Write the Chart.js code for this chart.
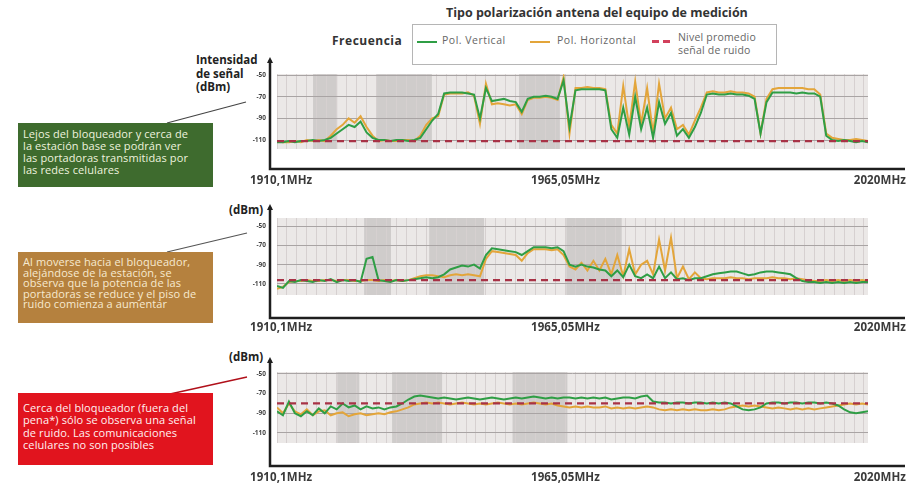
<!DOCTYPE html>
<html><head><meta charset="utf-8">
<script src="https://cdn.jsdelivr.net/npm/chart.js@4.4.0/dist/chart.umd.min.js"></script>
<style>
body{margin:0;width:917px;height:484px;background:#fff;position:relative;overflow:hidden;font-family:'Open Sans',Lato,sans-serif;color:#333}
.a{position:absolute;white-space:nowrap}
canvas{position:absolute}
.box{position:absolute;left:18px;width:195px;box-sizing:border-box;padding:0 5px;font-size:11px;white-space:nowrap;letter-spacing:0.1px}
.xl{position:absolute;font-size:11.5px;font-weight:700;color:#3a3a3a;letter-spacing:0.1px}
.dbm{position:absolute;font-size:11.5px;font-weight:700;color:#222}
.lg{position:absolute;white-space:nowrap;font-size:10.5px;color:#666;letter-spacing:0.5px}
svg{position:absolute;left:0;top:0}
</style></head><body>

<div class="a" style="left:446px;top:4px;font-size:12.5px;font-weight:700;color:#333">Tipo polarización antena del equipo de medición</div>
<div class="a" style="left:332px;top:32px;font-size:12px;font-weight:700;color:#333;letter-spacing:0.5px">Frecuencia</div>
<div class="a" style="left:412px;top:24px;width:365px;height:41px;border:1.5px solid #b5b5b5;box-sizing:border-box"></div>
<div class="a" style="left:417px;top:41px;width:20px;height:2px;background:#2f9e45"></div>
<div class="lg" style="left:442px;top:33px">Pol. Vertical</div>
<div class="a" style="left:530px;top:41px;width:20px;height:2px;background:#e3a53a"></div>
<div class="lg" style="left:557px;top:33px">Pol. Horizontal</div>
<div class="a" style="left:652px;top:40px;width:7px;height:2.5px;background:#d2405c"></div>
<div class="a" style="left:663px;top:40px;width:7px;height:2.5px;background:#d2405c"></div>
<div class="lg" style="left:678px;top:31px;line-height:13px;letter-spacing:0.2px">Nivel promedio<br>señal de ruido</div>

<div class="a" style="left:196px;top:53px;font-size:11.5px;font-weight:700;line-height:13.5px;color:#222">Intensidad<br>de señal<br>(dBm)</div>
<div class="dbm" style="left:229px;top:202px">(dBm)</div>
<div class="dbm" style="left:229px;top:349px">(dBm)</div>

<svg width="917" height="484">
<line x1="167" y1="123" x2="246" y2="102" stroke="#444" stroke-width="1.2"/>
<line x1="167" y1="252" x2="247" y2="233" stroke="#555" stroke-width="1.2"/>
<line x1="170" y1="394" x2="247" y2="377" stroke="#b0101a" stroke-width="1.4"/>
</svg>

<div class="box" style="top:123px;height:64px;background:#3e6b2e;color:#eef3df;padding-top:5px;line-height:12px">Lejos del bloqueador y cerca de<br>la estación base se podrán ver<br>las portadoras transmitidas por<br>las redes celulares</div>
<div class="box" style="top:252px;height:71px;background:#b5813e;color:#f7ead0;padding-top:5px;line-height:10.6px">Al moverse hacia el bloqueador,<br>alejándose de la estación, se<br>observa que la potencia de las<br>portadoras se reduce y el piso de<br>ruido comienza a aumentar</div>
<div class="box" style="top:393px;height:72px;background:#e1141e;color:#fff2f2;padding-top:9px;line-height:12.3px">Cerca del bloqueador (fuera del<br>pena*) sólo se observa una señal<br>de ruido. Las comunicaciones<br>celulares no son posibles</div>

<canvas id="c1" width="717" height="140" style="left:200px;top:50px"></canvas>
<canvas id="c2" width="717" height="140" style="left:200px;top:195px"></canvas>
<canvas id="c3" width="717" height="140" style="left:200px;top:345px"></canvas>

<div id="xl"></div>

<script>
// ---------- data ----------
const freqStart = 1910.1;
const freqEnd = 2020;
const xTickLabels = ['1910,1MHz', '1965,05MHz', '2020MHz'];
const yTicks = [-50, -70, -90, -110];
const seriesNames = ['Pol. Vertical', 'Pol. Horizontal', 'Nivel promedio señal de ruido'];

// Panel 1: lejos del bloqueador
const p1Vertical = [-112,-112,-111,-112,-111,-111,-110,-111,-110,-108,-104,-100,-96,-98,-93,-103,-108,-110,-110,-111,
  -110,-110,-111,-110,-108,-100,-92,-86,-67,-66,-66,-66,-67,-68,-90,-62,-74,-73,-72,-74,
  -75,-84,-72,-70,-70,-69,-70,-72,-55,-98,-64,-63,-63,-63,-63,-64,
  -100,-108,-80,-105,-70,-100,-80,-108,-75,-95,
  -85,-106,-100,-108,-98,-85,-68,-67,-68,-68,
  -67,-68,-68,-69,-72,-104,-75,-66,-66,-66,
  -66,-67,-66,-67,-67,-70,-106,-110,-111,-110,
  -111,-112,-111,-112];
const p1Horizontal = [-111,-112,-112,-111,-112,-110,-111,-110,-111,-106,-100,-96,-90,-94,-88,-98,-106,-111,-110,-111,
  -111,-110,-110,-111,-106,-96,-90,-88,-68,-67,-67,-67,-66,-69,-95,-58,-77,-76,-77,-78,
  -77,-86,-73,-71,-71,-70,-71,-73,-52,-104,-62,-62,-61,-62,-62,-63,
  -96,-104,-60,-98,-56,-95,-62,-104,-58,-90,
  -80,-100,-96,-105,-92,-80,-66,-65,-66,-66,
  -65,-66,-66,-67,-70,-104,-72,-63,-62,-62,
  -62,-62,-62,-63,-63,-68,-104,-108,-109,-110,
  -110,-109,-110,-111];
const p1Noise = -111;
const p1Bands = [[1916.8, 1921.3], [1928.7, 1938.9], [1955.1, 1962.7]];

// Panel 2: moviéndose hacia el bloqueador
const p2Vertical = [-112,-114,-107,-108,-106,-107,-108,-106,-107,-105,-108,-106,-107,-106,-108,-84,-82,-106,-107,-108,
  -106,-107,-106,-105,-104,-103,-104,-103,-100,-95,-93,-91,-92,-90,-94,-80,-73,-74,-75,-76,
  -77,-80,-76,-72,-72,-72,-73,-72,-76,-90,-92,-90,-92,-93,-95,-96,-102,-96,-103,-90,
  -102,-104,-100,-104,-92,-104,-98,-105,-104,-106,-104,-104,-102,-100,-99,-98,-97,-97,-99,-101,
  -100,-98,-97,-97,-98,-99,-100,-104,-107,-108,-108,-109,-108,-109,-108,-109,-108,-109,-108,-108];
const p2Horizontal = [-115,-113,-108,-107,-107,-106,-107,-107,-106,-106,-107,-106,-106,-107,-107,-106,-106,-107,-106,-107,
  -106,-107,-106,-104,-102,-101,-101,-102,-103,-101,-100,-101,-100,-101,-102,-84,-76,-77,-78,-79,
  -80,-86,-78,-74,-74,-74,-75,-74,-80,-92,-95,-88,-96,-86,-96,-84,-100,-80,-102,-74,
  -100,-90,-86,-100,-64,-96,-62,-104,-92,-105,-98,-104,-105,-104,-104,-104,-103,-104,-104,-105,
  -104,-104,-104,-103,-104,-104,-105,-104,-105,-106,-107,-107,-106,-107,-106,-107,-106,-107,-106,-107];
const p2Noise = -106;
const p2Bands = [[1926.3, 1931.3], [1938.4, 1948.6], [1963.9, 1974.2]];

// Panel 3: cerca del bloqueador
const p3Vertical = [-88,-92,-78,-90,-93,-88,-92,-85,-90,-83,-86,-80,-84,-82,-86,-83,-85,-84,-86,-84,
  -83,-80,-76,-73,-72,-73,-74,-75,-74,-75,-76,-75,-74,-75,-76,-75,-74,-75,-76,-75,
  -74,-75,-74,-73,-74,-75,-74,-75,-74,-74,-75,-74,-75,-74,-75,-74,-76,-75,-74,-74,
  -75,-73,-72,-78,-79,-79,-80,-79,-79,-80,-79,-79,-80,-79,-80,-79,-80,-83,-86,-87,
  -86,-84,-80,-79,-79,-80,-79,-79,-80,-79,-79,-80,-79,-80,-82,-86,-89,-90,-89,-88];
const p3Horizontal = [-84,-90,-80,-88,-91,-86,-92,-88,-87,-92,-90,-89,-93,-91,-90,-92,-91,-90,-91,-89,
  -88,-86,-84,-81,-80,-79,-80,-79,-80,-81,-80,-79,-80,-81,-80,-81,-80,-79,-80,-81,
  -80,-81,-80,-79,-80,-81,-80,-82,-83,-84,-83,-84,-83,-84,-84,-83,-85,-84,-85,-84,
  -85,-84,-83,-84,-86,-87,-86,-87,-86,-87,-86,-87,-87,-86,-87,-86,-84,-83,-82,-83,
  -82,-83,-84,-85,-84,-85,-86,-85,-86,-85,-86,-85,-84,-83,-82,-81,-80,-81,-80,-81];
const p3Noise = -80;
const p3Bands = [[1921.3, 1925.4], [1931.5, 1940.8], [1953.9, 1964.1]];

// ---------- drawing ----------
const GREEN = '#2f9e45', ORANGE = '#e3a53a', NOISE = '#a83246';

function toXY(arr) {
  const step = (freqEnd - freqStart) / (arr.length - 1);
  return arr.map((v, i) => ({ x: freqStart + i * step, y: v }));
}

const panelPlugin = {
  id: 'panel',
  beforeDraw(chart, args, o) {
    const { ctx, chartArea: a, scales: { x } } = chart;
    ctx.save();
    ctx.fillStyle = '#ebe8e7';
    ctx.fillRect(a.left, a.top, a.right - a.left, a.bottom - a.top);
    ctx.fillStyle = '#cfcccb';
    o.bands.forEach(([f0, f1]) => {
      const x0 = x.getPixelForValue(f0), x1 = x.getPixelForValue(f1);
      ctx.fillRect(x0, a.top, x1 - x0, a.bottom - a.top);
    });
    ctx.restore();
  },
  afterDraw(chart, args, o) {
    const { ctx, chartArea: a } = chart;
    const ax = a.left - 7;
    ctx.save();
    ctx.strokeStyle = '#1e1e1e';
    ctx.lineWidth = 2.5;
    ctx.beginPath();
    ctx.moveTo(ax, o.arrowTop + 3);
    ctx.lineTo(ax, o.axisY);
    ctx.lineTo(chart.width - 12, o.axisY);
    ctx.stroke();
    ctx.fillStyle = '#1e1e1e';
    ctx.beginPath();
    ctx.moveTo(ax, o.arrowTop);
    ctx.lineTo(ax - 3, o.arrowTop + 6);
    ctx.lineTo(ax + 3, o.arrowTop + 6);
    ctx.closePath();
    ctx.fill();
    ctx.restore();
  }
};

function makePanel(id, vert, hor, noise, bands, yMin, yMax, pad, arrowTop, axisY) {
  new Chart(document.getElementById(id), {
    type: 'line',
    data: {
      datasets: [
        { label: seriesNames[2], data: [{ x: freqStart, y: noise }, { x: freqEnd, y: noise }],
          borderColor: NOISE, borderWidth: 2.2, borderDash: [7, 5], pointRadius: 0 },
        { label: seriesNames[0], data: toXY(vert), borderColor: GREEN, borderWidth: 2, pointRadius: 0, tension: 0 },
        { label: seriesNames[1], data: toXY(hor), borderColor: ORANGE, borderWidth: 2, pointRadius: 0, tension: 0 }
      ]
    },
    options: {
      responsive: false, animation: false, events: [],
      layout: { padding: { left: 0, right: 49, top: pad[0], bottom: pad[1] } },
      plugins: { legend: { display: false }, tooltip: { enabled: false }, panel: { bands, arrowTop, axisY } },
      scales: {
        x: {
          type: 'linear', min: freqStart, max: freqEnd,
          afterBuildTicks: s => { const t = []; for (let f = freqStart; f <= freqEnd + 0.01; f += 1.85) t.push({ value: f }); s.ticks = t; },
          afterFit: s => { s.height = 0; },
          ticks: { display: false }, border: { display: false },
          grid: { color: '#d6d0d0', lineWidth: 1, drawTicks: false }
        },
        y: {
          min: yMin, max: yMax,
          afterBuildTicks: s => { s.ticks = yTicks.map(v => ({ value: v })); },
          afterFit: s => { s.width = 77; },
          border: { display: false },
          ticks: { padding: 11, color: '#444', font: { size: 6.5, weight: 'bold', family: 'Open Sans' } },
          grid: { color: '#a9a4a4', lineWidth: 1, drawTicks: false }
        }
      }
    },
    plugins: [panelPlugin]
  });
}

makePanel('c1', p1Vertical, p1Horizontal, p1Noise, p1Bands, -118.3, -49, [24, 41], 7, 119);
makePanel('c2', p2Vertical, p2Horizontal, p2Noise, p2Bands, -121.4, -41.7, [23, 40], 9, 123);
makePanel('c3', p3Vertical, p3Horizontal, p3Noise, p3Bands, -120.2, -48, [27, 42], 12, 121);

// x-axis end labels
const xlTops = [172, 319, 469];
const host = document.getElementById('xl');
xlTops.forEach(t => {
  const l = document.createElement('div'); l.className = 'xl'; l.style.left = '250px'; l.style.top = t + 'px'; l.textContent = xTickLabels[0]; host.appendChild(l);
  const m = document.createElement('div'); m.className = 'xl'; m.style.left = '531px'; m.style.top = t + 'px'; m.textContent = xTickLabels[1]; host.appendChild(m);
  const r = document.createElement('div'); r.className = 'xl'; r.style.right = '11px'; r.style.top = t + 'px'; r.textContent = xTickLabels[2]; host.appendChild(r);
});
</script>
</body></html>
